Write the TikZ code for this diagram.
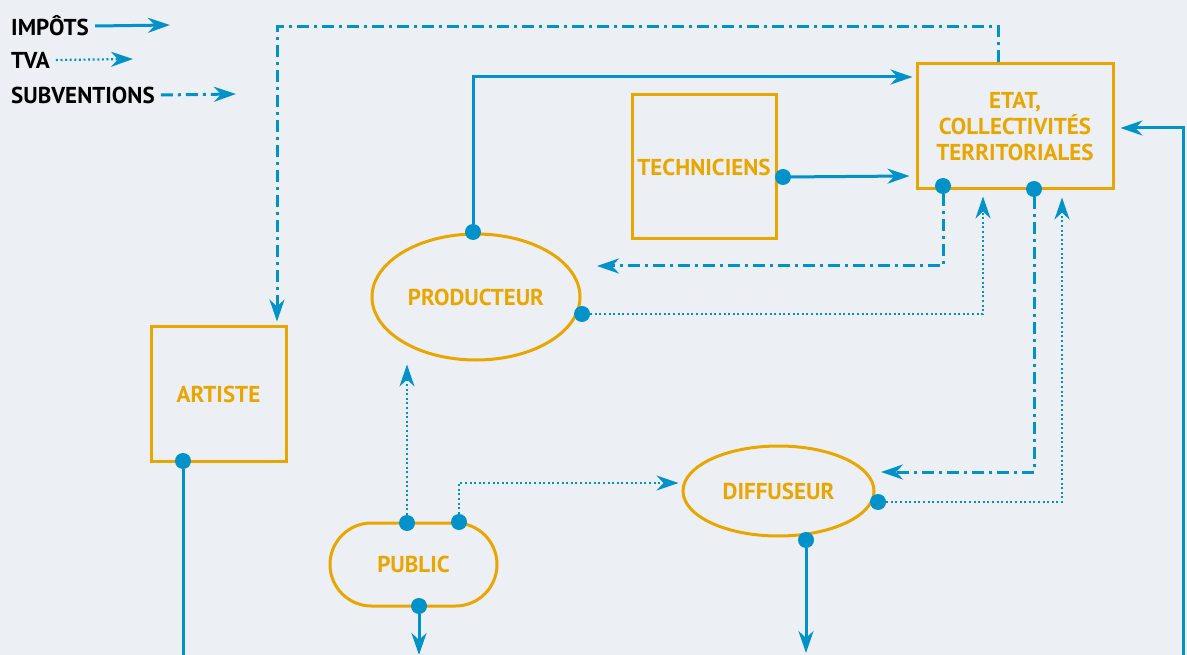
\documentclass[tikz,border=0pt]{standalone}
\usepackage{fontspec}
\setmainfont{PT Sans}
\usetikzlibrary{arrows.meta,shapes.geometric,shapes.misc}
\definecolor{org}{RGB}{234,166,0}
\definecolor{blu}{RGB}{0,146,200}
\definecolor{bg}{RGB}{236,239,243}
\tikzset{
  lbl/.style={font=\fontsize{23}{26}\selectfont\bfseries, text=org, align=center},
  leg/.style={font=\fontsize{23}{26}\selectfont\bfseries, text=black, anchor=west, inner sep=0},
  box/.style={draw=org, line width=3pt, inner sep=0, lbl},
  dot/.style={circle, fill=blu, minimum size=16pt, inner sep=0},
  tip/.style={-{Stealth[length=22pt,width=15pt,inset=7pt]}},
  imp/.style={draw=blu, line width=3pt, tip},
  tva/.style={draw=blu, line width=2.2pt, dash pattern=on 2pt off 2.6pt, tip},
  sub/.style={draw=blu, line width=3pt, dash pattern=on 12pt off 5pt on 3pt off 5pt, tip},
}
\begin{document}
\begin{tikzpicture}[x=1pt,y=-1pt]
\fill[bg] (0,0) rectangle (1187,655);
\useasboundingbox (0,0) rectangle (1187,655);

% legend
\node[leg] (limp) at (11,26) {IMPÔTS};
\node[leg] (ltva) at (11,60) {TVA};
\node[leg] (lsub) at (11,95) {SUBVENTIONS};
\coordinate (limpe) at (170,25);
\coordinate (ltvae) at (133,59);
\coordinate (lsube) at (236,94);
\draw[imp] ([xshift=6pt]limp.east) -- (limpe);
\draw[tva] ([xshift=6pt]ltva.east) -- (ltvae);
\draw[sub] ([xshift=6pt]lsub.east) -- (lsube);

% nodes
\node[box, minimum width=196pt, minimum height=125pt] (etat) at (1015,126.5) {ETAT,\\COLLECTIVITÉS\\TERRITORIALES};
\node[box, minimum width=144pt, minimum height=144pt] (tech) at (704,167) {TECHNICIENS};
\node[box, minimum width=135pt, minimum height=134pt] (art) at (218.5,394) {ARTISTE};
\node[box, ellipse, minimum width=208pt, minimum height=126pt] (prod) at (476,297) {PRODUCTEUR};
\node[box, ellipse, minimum width=191pt, minimum height=90pt] (diff) at (778.5,491) {DIFFUSEUR};
\node[box, rounded rectangle, minimum width=167pt, minimum height=83pt] (pub) at (413.5,564.5) {PUBLIC};

% dots
\node[dot] (dart) at (183,461) {};
\node[dot] (dpub) at (419,606) {};
\node[dot] (dpub1) at (407,523) {};
\node[dot] (dpub2) at (459,522) {};
\node[dot] (ddiff) at (806,540) {};
\node[dot] (ddiff2) at (878,502) {};
\node[dot] (dprod) at (473,232) {};
\node[dot] (dprod2) at (582,314) {};
\node[dot] (dtech) at (783,177) {};
\node[dot] (detat1) at (943,186) {};
\node[dot] (detat2) at (1034,189) {};

% free ends
\coordinate (artend) at (183,660);
\coordinate (pubend) at (419,655);
\coordinate (diffend) at (806,653);
\coordinate (rbot) at (1183,660);

% IMPOTS
\draw[draw=blu, line width=3pt] (dart) -- (artend);
\draw[imp] (dpub) -- (pubend);
\draw[imp] (ddiff) -- (diffend);
\draw[imp] (dprod) |- ([xshift=-3pt]etat.west |- 0,77);
\draw[imp] (dtech) -- ([xshift=-6pt]etat.west |- 0,176);
\draw[imp] (rbot) |- ([xshift=6pt]etat.east |- 0,128);

% TVA
\draw[tva] (dprod2) -| ([yshift=-6pt]etat.south -| 983,0);
\draw[tva] (ddiff2) -| ([yshift=-7pt]etat.south -| 1062,0);
\draw[tva] (dpub1) -- ([yshift=-3pt]prod.south -| 407,0);
\draw[tva] (dpub2) |- ([xshift=-3pt]diff.west |- 0,483);

% SUBVENTIONS
\draw[sub] (detat1) |- (0,266 -| 597,0);
\draw[sub] (detat2) |- (0,472 -| 881,0);
\draw[sub] (etat.north -| 998,0) |- (277,27) -- ([yshift=4pt]art.north -| 277,0);
\end{tikzpicture}
\end{document}
